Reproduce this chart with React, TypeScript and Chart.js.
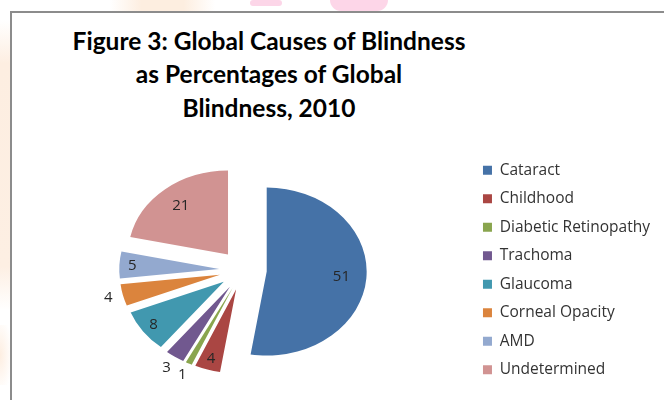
import React, { useEffect, useRef } from "react";
import { Chart, registerables } from "chart.js";

Chart.register(...registerables);

// ---- data ----
const TITLE_LINES = [
  "Figure 3: Global Causes of Blindness",
  "as Percentages of Global",
  "Blindness, 2010",
];
const CAUSES = [
  "Cataract",
  "Childhood",
  "Diabetic Retinopathy",
  "Trachoma",
  "Glaucoma",
  "Corneal Opacity",
  "AMD",
  "Undetermined",
];
const PERCENTS = [51, 4, 1, 3, 8, 4, 5, 21];
const COLORS = [
  "#4572A7",
  "#AA4643",
  "#89A54E",
  "#71588F",
  "#4198AF",
  "#DB843D",
  "#93A9CF",
  "#D19392",
];
// where Excel put each data label (inside / outside the slice)
const LABEL_OUTSIDE = [false, false, true, true, false, true, false, false];

// ---- styling ----
const STRETCH_X = 1.19; // the pie is drawn as a slightly wide ellipse
const EXPLODE = 20; // px each slice is pulled out from the centre
const LABEL_FONT = "15px 'Open Sans', sans-serif";
const LABEL_COLOR = "#262626";

const explodedPiePlugin = {
  id: "explodedPie",
  beforeDatasetsDraw(chart: any) {
    const ctx: CanvasRenderingContext2D = chart.ctx;
    const meta = chart.getDatasetMeta(0);
    const arcs: any[] = meta.data;
    // slices
    arcs.forEach((arc) => {
      const { x, y, startAngle, endAngle } = arc.getProps(
        ["x", "y", "startAngle", "endAngle"],
        true
      );
      const mid = (startAngle + endAngle) / 2;
      ctx.save();
      ctx.translate(x, y);
      ctx.scale(STRETCH_X, 1);
      ctx.translate(Math.cos(mid) * EXPLODE, Math.sin(mid) * EXPLODE);
      ctx.translate(-x, -y);
      arc.draw(ctx);
      ctx.restore();
    });
    // data labels
    ctx.save();
    ctx.font = LABEL_FONT;
    ctx.fillStyle = LABEL_COLOR;
    ctx.textAlign = "center";
    ctx.textBaseline = "middle";
    arcs.forEach((arc, i) => {
      const { x, y, startAngle, endAngle, outerRadius } = arc.getProps(
        ["x", "y", "startAngle", "endAngle", "outerRadius"],
        true
      );
      const mid = (startAngle + endAngle) / 2;
      const sweep = endAngle - startAngle;
      const f = LABEL_OUTSIDE[i] ? 1.15 : sweep > 1 ? 0.75 : 0.87;
      const d = EXPLODE + f * outerRadius;
      const px = x + STRETCH_X * Math.cos(mid) * d;
      const py = y + Math.sin(mid) * d;
      ctx.fillText(String(PERCENTS[i]), px, py);
    });
    ctx.restore();
    return false;
  },
};

export default function App() {
  const canvasRef = useRef<HTMLCanvasElement | null>(null);

  useEffect(() => {
    if (!canvasRef.current) return;
    const chart = new Chart(canvasRef.current, {
      type: "pie",
      data: {
        labels: CAUSES,
        datasets: [
          {
            data: PERCENTS,
            backgroundColor: COLORS,
            borderWidth: 0,
            radius: 84,
          } as any,
        ],
      },
      options: {
        responsive: false,
        animation: false,
        layout: { padding: { left: 16, right: 4, top: 147.5, bottom: 7.5 } },
        plugins: {
          legend: {
            position: "right",
            fullSize: false,
            align: "center",
            labels: {
              boxWidth: 9,
              boxHeight: 9,
              padding: 13,
              color: "#333333",
              font: { family: "'Open Sans', sans-serif", size: 15.5 },
            },
          },
          title: { display: false },
          tooltip: { enabled: false },
        },
      } as any,
      plugins: [explodedPiePlugin as any],
    });
    return () => chart.destroy();
  }, []);

  return (
    <div
      style={{
        position: "fixed",
        left: 0,
        top: 0,
        width: 664,
        height: 400,
        overflow: "hidden",
        background: "#ffffff",
      }}
    >
      {/* faint watermark of the surrounding slide */}
      <div style={{ position: "absolute", left: 0, top: 20, width: 10, height: 290, background: "linear-gradient(#fff 0%, #fdeee1 15%, #fdefe3 85%, #fff 100%)" }} />
      <div style={{ position: "absolute", left: 0, top: 325, width: 10, height: 60, background: "radial-gradient(ellipse at left, #fdeee1 0%, #fff 90%)" }} />
      <div style={{ position: "absolute", left: 110, top: 0, width: 105, height: 11, background: "linear-gradient(90deg, #fff 0%, #fdeee0 30%, #fdeee0 70%, #fff 100%)" }} />
      <div style={{ position: "absolute", left: 250, top: 0, width: 32, height: 6, background: "#fcd6e8", borderRadius: 6 }} />
      <div style={{ position: "absolute", left: 330, top: 0, width: 58, height: 11, background: "#fdd6e8", borderRadius: "0 0 20px 20px" }} />
      {/* chart frame */}
      <div
        style={{
          position: "absolute",
          left: 10,
          top: 11,
          width: 680,
          height: 420,
          border: "2px solid #8c8c8c",
          background: "#ffffff",
          boxSizing: "border-box",
        }}
      />
      <div
        style={{
          position: "absolute",
          left: 0,
          top: 23.75,
          width: 538,
          textAlign: "center",
          fontFamily: "Lato, 'Open Sans', sans-serif",
          fontWeight: 700,
          fontSize: 24.5,
          lineHeight: "33.5px",
          color: "#000000",
          whiteSpace: "pre",
        }}
      >
        {TITLE_LINES.map((line) => (
          <div key={line}>{line}</div>
        ))}
      </div>
      <canvas
        ref={canvasRef}
        width={664}
        height={400}
        style={{ position: "absolute", left: 0, top: 0 }}
      />
    </div>
  );
}
